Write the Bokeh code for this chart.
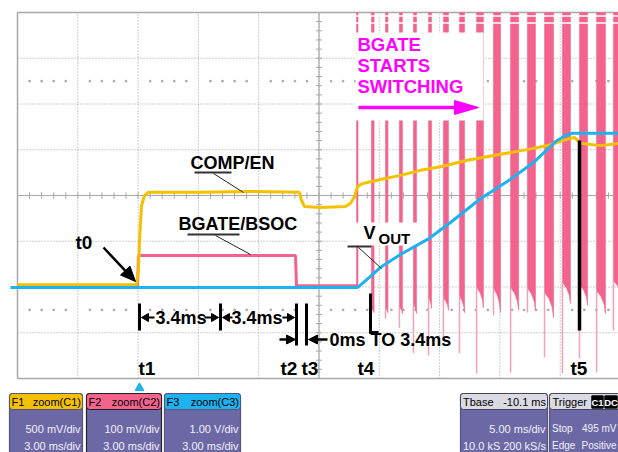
from bokeh.plotting import figure
from bokeh.models import Range1d, BoxAnnotation, Label
from bokeh.embed import file_html
from bokeh.resources import INLINE

# ---------------- data (time in ms, level in screen divisions) ----------------
comp_t = [0.0, 5.92, 6.02, 6.07, 6.17, 6.32, 6.52, 9.10, 11.59, 14.03, 14.13, 14.28, 15.07,
          16.32, 16.57, 16.77, 16.92, 17.16, 18.06, 19.05, 20.05, 21.04, 22.39, 24.03, 25.67,
          26.52, 27.26, 27.71, 28.01, 29.00, 29.90]
comp_v = [-1.95, -1.95, -1.64, -0.98, -0.22, 0.0, 0.07, 0.07, 0.09, 0.07, -0.11, -0.24, -0.26,
          -0.24, -0.17, -0.02, 0.20, 0.26, 0.35, 0.44, 0.55, 0.63, 0.77, 0.90, 1.03,
          1.11, 1.22, 1.27, 1.14, 1.09, 1.14]

bgate_t = [0.0, 5.97, 6.02, 13.83, 13.88, 16.92]
bgate_v = [-1.97, -1.97, -1.31, -1.31, -1.97, -1.97]

vout_t = [-0.35, 16.92, 17.16, 17.56, 18.06, 19.05, 20.40, 21.54, 23.03, 24.38, 25.67, 26.77,
          27.26, 27.61, 29.90]
vout_v = [-2.01, -2.01, -1.92, -1.77, -1.57, -1.29, -0.96, -0.59, -0.07, 0.31, 0.72, 1.18,
          1.31, 1.36, 1.36]

# BGATE switching pulses
pulse_start = [16.87, 17.61, 18.31, 19.00, 19.70, 20.45, 21.19, 21.99, 22.84, 23.68, 24.53,
               25.37, 26.22, 27.11, 27.96, 28.81, 29.65]
pulse_end = [16.94, 17.74, 18.43, 19.15, 19.85, 20.60, 21.44, 22.24, 23.18, 24.03, 24.93,
             25.77, 26.67, 27.51, 28.36, 29.25, 30.05]
pulse_low_left = [-2.01, -2.49, -2.47, -2.45, -2.40, -2.25, -2.25, -2.21, -2.01, -2.03, -2.01,
                  -2.03, -2.12, -1.90, -1.95, -2.08, -1.86]
pulse_low_right = [-2.01, -2.56, -2.56, -2.58, -2.58, -2.47, -2.51, -2.56, -2.45, -2.56, -2.51,
                   -2.51, -2.67, -2.36, -2.40, -2.58, -2.30]
pulse_tail = [-2.01, -2.60, -2.69, -2.89, -3.45, -3.50, -3.17, -3.45, -3.89, -2.62, -3.87,
              -2.56, -3.54, -3.89, -3.56, -3.87, -2.95]

marker_names = ["t0", "t1", "t2", "t3", "t4", "t5"]
ch_names = ["F1", "F2", "F3"]
ch_sources = ["zoom(C1)", "zoom(C2)", "zoom(C3)"]
ch_vdiv = ["500 mV/div", "100 mV/div", "1.00 V/div"]
ch_tdiv = ["3.00 ms/div", "3.00 ms/div", "3.00 ms/div"]

# ---------------- layout helpers (screen px of the 618x452 picture -> data) ----------------
X0, Y0, PXDIV_X, PXDIV_Y, MS_DIV = 17.0, 195.0, 60.3, 45.75, 3.0
W, H = 618, 452


def X(px):
    return (px - X0) * MS_DIV / PXDIV_X


def Y(py):
    return (Y0 - py) / PXDIV_Y


YELLOW = "#F5C000"
PINK = "#F2648E"
PINK_TAIL = "#F3A2BA"
BLUE = "#1DB2F0"
MAGENTA = "#FF00FF"
PURPLE = "#6C68A6"
GRID = "#9C9C9C"
FONT = "Liberation Sans"
SMALL = "Liberation Sans"
SS = 11

p = figure(width=W, height=H, x_range=Range1d(X(0), X(W)), y_range=Range1d(Y(H), Y(0)),
           output_backend="svg", toolbar_location=None, x_axis_type=None, y_axis_type=None,
           min_border=0, outline_line_color=None, background_fill_color="white",
           border_fill_color="white")

# ---------------- graticule ----------------
vx = [MS_DIV * k for k in range(1, 10)]
p.segment(x0=vx, y0=[-4] * len(vx), x1=vx, y1=[4] * len(vx), line_color=GRID,
          line_dash="1 2", line_width=1)
hy = [k for k in range(-3, 4) if k != 0]
p.segment(x0=[0] * len(hy), y0=hy, x1=[30] * len(hy), y1=hy, line_color=GRID,
          line_dash="1 2", line_width=1)
# borders
p.segment(x0=[0, 0, 0], y0=[-4, 4, -4], x1=[0, 30, 30], y1=[4, 4, -4], line_color="#A8A8A8",
          line_width=1.5)
# centre cross with ticks
p.segment(x0=[0, 15], y0=[0, -4], x1=[30, 15], y1=[0, 4], line_color="#A8A8A8", line_width=1.2)
tx = [0.6 * k for k in range(0, 51)]
p.segment(x0=tx, y0=[-0.07] * len(tx), x1=tx, y1=[0.07] * len(tx), line_color="#A8A8A8",
          line_width=1)
ty = [0.2 * k for k in range(-20, 21)]
p.segment(x0=[14.85] * len(ty), y0=ty, x1=[15.15] * len(ty), y1=ty, line_color="#A8A8A8",
          line_width=1)
dx = [0.6 * k for k in range(1, 50) if k % 5 != 0]
p.scatter(dx + dx, [2.5] * len(dx) + [-2.5] * len(dx), marker="square", size=1.5,
          color="#A8A8A8")

# ---------------- BGATE switching pulses ----------------
TOP = 4.0
xs, ys = [], []
for xl, xr, bl, br in zip(pulse_start, pulse_end, pulse_low_left, pulse_low_right):
    w = xr - xl
    d = br - bl
    xs.append([xl, xr, xr, xl + 0.85 * w, xl + 0.5 * w, xl])
    ys.append([TOP, TOP, br, bl + 0.6 * d, bl + 0.25 * d, bl])
p.patches(xs, ys, fill_color=PINK, line_color=PINK, line_width=0.6)
p.segment(x0=pulse_start, y0=pulse_low_left, x1=pulse_start, y1=pulse_tail,
          line_color=PINK_TAIL, line_width=1.5)
p.segment(x0=[X(355)] * 2, y0=[Y(15.5), Y(22.5)], x1=[X(620)] * 2, y1=[Y(15.5), Y(22.5)],
          line_color="white", line_width=1.5)

# white backgrounds of the labels
p.quad(left=[X(355), X(347)], right=[X(483), X(427)], top=[Y(32), Y(222)],
       bottom=[Y(120), Y(245)], fill_color="white", line_color=None)

# ---------------- traces ----------------
p.line(bgate_t, bgate_v, line_color=PINK, line_width=3)
p.line(comp_t, comp_v, line_color=YELLOW, line_width=3)
p.line(vout_t, vout_v, line_color=BLUE, line_width=3)


# ---------------- annotations ----------------
def seg(x0, y0, x1, y1, color="black", width=3.0):
    p.segment(x0=[X(x0)], y0=[Y(y0)], x1=[X(x1)], y1=[Y(y1)], line_color=color,
              line_width=width)


def arrow(x0, y0, x1, y1, head_len, head_half, width, color="black"):
    L = ((x1 - x0) ** 2 + (y1 - y0) ** 2) ** 0.5
    ux, uy = (x1 - x0) / L, (y1 - y0) / L
    bx, by = x1 - ux * head_len, y1 - uy * head_len
    seg(x0, y0, bx + ux * 1.0, by + uy * 1.0, color, width)
    px_ = [x1, bx - uy * head_half, bx + uy * head_half]
    py_ = [y1, by + ux * head_half, by - ux * head_half]
    p.patch([X(a) for a in px_], [Y(b) for b in py_], fill_color=color, line_color=color,
            line_width=1)


def text(px, py, s, size=18, color="black", align="left", font=FONT, style="bold"):
    p.add_layout(Label(x=X(px), y=Y(py), text=s, text_align=align, text_baseline="middle",
                       text_color=color, text_font=font, text_font_size=f"{size}px",
                       text_font_style=style))


def small(px, py, s, color="#F2F2F8", align="left", style="normal", size=SS):
    text(px, py, s, size=size, color=color, align=align, font=SMALL, style=style)


# BGATE STARTS SWITCHING
text(357, 44, "BGATE", color=MAGENTA, size=18.5)
text(357, 65, "STARTS", color=MAGENTA, size=18.5)
text(357, 86, "SWITCHING", color=MAGENTA, size=18.5)
arrow(358, 107, 478, 107, 24, 7, 3.5, MAGENTA)

# COMP/EN
text(190, 162, "COMP/EN")
seg(194, 172, 231, 172, "#333333", 2)
seg(213, 173, 243, 192, "#222222", 1)
# BGATE/BSOC
text(178, 223, "BGATE/BSOC")
seg(187, 234, 239, 234, "#333333", 2)
seg(215, 235, 250, 254, "#222222", 1)
# VOUT
text(363, 232, "V")
text(378, 238, "OUT", size=15)
seg(347, 246, 371, 246, "#333333", 2)
seg(358, 247, 381, 268, "#222222", 1)
# t0
text(75, 242, marker_names[0], size=19)
arrow(103, 247, 135, 281, 15, 6.5, 2.5)

# 3.4ms brackets
seg(139, 303, 139, 330)
seg(220, 303, 220, 330)
arrow(154, 317, 141, 317, 7, 4, 2)
text(155, 317, "3.4ms")
arrow(204, 317, 218, 317, 7, 4, 2)
arrow(232, 317, 222, 317, 7, 4, 2)
text(231, 317, "3.4ms")
arrow(282, 317, 294, 317, 7, 4, 2)
seg(296, 303, 296, 345)
seg(306, 303, 306, 345)
arrow(279, 339, 295, 339, 9, 4.5, 2.5)
arrow(327, 339, 308, 339, 9, 4.5, 2.5)
text(329, 339, "0ms TO 3.4ms")
seg(370, 293, 370, 333)
seg(369, 332, 378, 332)
seg(579, 140, 579, 330, "black", 3.5)

for name, xpx in zip(marker_names[1:], [138, 280, 301, 357, 570]):
    text(xpx, 368, name, size=19)


# ---------------- instrument info boxes ----------------
def box(l, r, t, b, fill, line="#4A4A70", lw=1.0, radius=3):
    p.add_layout(BoxAnnotation(left=X(l), right=X(r), top=Y(t), bottom=Y(b), fill_color=fill,
                               fill_alpha=1.0, line_color=line, line_alpha=1.0, line_width=lw,
                               border_radius=radius))


p.scatter([X(139)], [Y(387.5)], marker="triangle", size=9, color=BLUE)

headers = [YELLOW, PINK, BLUE]
lefts = [9, 86, 164]
rights = [82, 161, 240]
for i in range(3):
    l, r = lefts[i], rights[i]
    line = "#222222" if i == 1 else "#55557A"
    box(l, r, 393, 470, PURPLE, line, 1.2)
    box(l, r, 393, 409, headers[i], line, 1.0)
    small(l + 2, 401.5, ch_names[i], color="black")
    small(r - 1.5, 401.5, ch_sources[i], color="black", align="right")
    small(r - 2, 428, ch_vdiv[i], align="right")
    small(r - 2, 445, ch_tdiv[i], align="right")

# timebase
box(460, 547, 393, 470, PURPLE, "#55557A", 1.2)
box(460, 547, 393, 409, "#DADAE2", "#44445A", 1.0)
small(462.5, 401.5, "Tbase", color="black")
small(545.5, 401.5, "-10.1 ms", color="black", align="right")
small(545, 428, "5.00 ms/div", align="right")
small(462.5, 445, "10.0 kS")
small(545.5, 445, "200 kS/s", align="right")
# trigger
box(549, 640, 393, 470, PURPLE, "#55557A", 1.2)
box(549, 640, 393, 409, "#DADAE2", "#44445A", 1.0)
small(552, 401.5, "Trigger", color="black")
box(591, 603, 395, 408, "black", "black", 0.5, 1)
box(604, 617, 395, 408, "black", "black", 0.5, 1)
small(597, 401.5, "C1", color="white", align="center", style="bold", size=9.5)
small(610.5, 401.5, "DC", color="white", align="center", style="bold", size=9.5)
small(551.5, 428, "Stop", size=10)
small(616, 428, "495 mV", align="right", size=10)
small(551.5, 445, "Edge", size=10)
small(616, 445, "Positive", align="right", size=10)

open("out.html", "w").write(file_html(p, INLINE))
